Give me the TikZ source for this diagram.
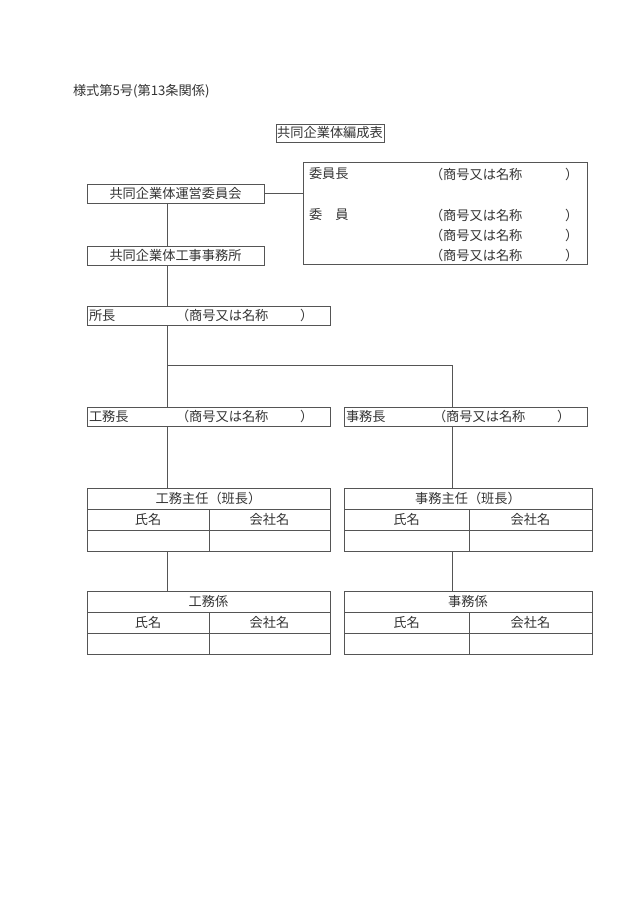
\documentclass[tikz,border=0pt]{standalone}
\usepackage{fontspec}
\newfontfamily\jpfont{Noto Sans CJK JP}
\usetikzlibrary{positioning}
\definecolor{senshoku}{HTML}{555555}
\definecolor{moji}{HTML}{333333}

% name table: prefix, x, y, left width, right width, heading
\newcommand{\meibo}[6]{%
  \node[cell, minimum width=#4pt+#5pt] (#1) at (#2,#3) {#6};
  \node[cell, minimum width=#4pt] (#1-shi) at (#1.south west) {氏名};
  \node[cell, minimum width=#5pt] (#1-kai) at (#1-shi.north east) {会社名};
  \node[cell, minimum width=#4pt] (#1-shi2) at (#1-shi.south west) {};
  \node[cell, minimum width=#5pt] (#1-kai2) at (#1-kai.south west) {};
}

\begin{document}
\begin{tikzpicture}[
  x=1pt, y=-1pt,
  every node/.style={font=\jpfont\fontsize{13.2}{15}\selectfont, text=moji,
                     inner sep=0pt, outer sep=0pt},
  waku/.style={draw=senshoku, line width=0.8pt, anchor=north west, minimum height=19pt},
  cell/.style={draw=senshoku, line width=0.8pt, anchor=north west, minimum height=21pt},
  lbl/.style={anchor=west},
  kei/.style={draw=senshoku, line width=0.8pt}
]
\useasboundingbox (0,0) rectangle (630,915);

\node[lbl] (yoshiki) at (73,91) {様式第5号(第13条関係)};
\node[waku, minimum width=108pt, minimum height=18pt] (title) at (276,124) {共同企業体編成表};

\node[waku, minimum width=284pt, minimum height=102pt] (iinkai) at (303,162) {};
\node[lbl] (iincho) at (309,174) {委員長};
\node[lbl] (iin) at (309,215) {委　員};
\foreach \y/\n in {174/a,215/b,235/c,255/d} {
  \node[lbl] (sh-\n) at (430,\y) {（商号又は名称};
  \node[lbl] (kk-\n) at (565,\y) {）};
}

\node[waku, minimum width=177pt] (unei) at (87,184) {共同企業体運営委員会};
\node[waku, minimum width=177pt] (jimusho) at (87,246) {共同企業体工事事務所};

\node[waku, minimum width=243pt] (shocho) at (87,306) {};
\node[lbl] (shocho-t) at (89,315.5) {所長};
\node[lbl] (shocho-sh) at (176,315.5) {（商号又は名称};
\node[lbl] (shocho-kk) at (300,315.5) {）};

\node[waku, minimum width=243pt] (koumucho) at (87,407) {};
\node[lbl] (koumucho-t) at (89,416.5) {工務長};
\node[lbl] (koumucho-sh) at (176,416.5) {（商号又は名称};
\node[lbl] (koumucho-kk) at (300,416.5) {）};

\node[waku, minimum width=243pt] (jimucho) at (344,407) {};
\node[lbl] (jimucho-t) at (346,416.5) {事務長};
\node[lbl] (jimucho-sh) at (433,416.5) {（商号又は名称};
\node[lbl] (jimucho-kk) at (557,416.5) {）};

\meibo{kshunin}{87}{488}{122}{121}{工務主任（班長）}
\meibo{jshunin}{344}{488}{125}{123}{事務主任（班長）}
\meibo{kgakari}{87}{591}{122}{121}{工務係}
\meibo{jgakari}{344}{591}{125}{123}{事務係}

\coordinate (trunk) at (167,0);
\coordinate (branch) at (452,365);

\draw[kei] (unei.east) -- (unei.east -| iinkai.west);
\draw[kei] (unei.south -| trunk) -- (jimusho.north -| trunk);
\draw[kei] (jimusho.south -| trunk) -- (shocho.north -| trunk);
\draw[kei] (shocho.south -| trunk) -- (koumucho.north -| trunk);
\draw[kei] (branch -| trunk) -- (branch) -- (jimucho.north -| branch);
\draw[kei] (koumucho.south -| trunk) -- (kshunin.north -| trunk);
\draw[kei] (jimucho.south -| branch) -- (jshunin.north -| branch);
\draw[kei] (kshunin-shi2.south -| trunk) -- (kgakari.north -| trunk);
\draw[kei] (jshunin-shi2.south -| branch) -- (jgakari.north -| branch);
\end{tikzpicture}
\end{document}
